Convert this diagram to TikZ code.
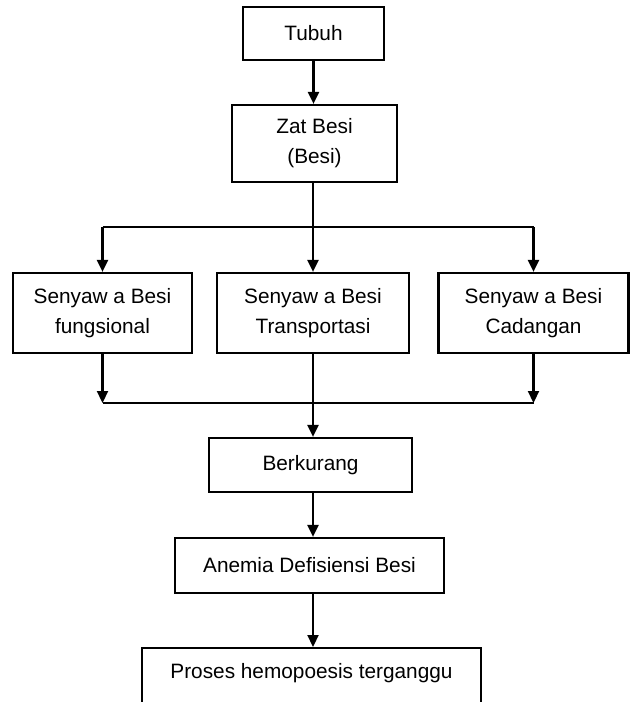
\documentclass[tikz,border=0pt]{standalone}
\usepackage{fontspec}
\setmainfont{Liberation Sans}
\usetikzlibrary{arrows.meta}

\begin{document}
\begin{tikzpicture}[x=0.5pt,y=-0.5pt,
  box/.style={draw,line width=1.1pt,align=center,inner sep=0pt,font=\fontsize{10.4}{15}\selectfont},
  link/.style={line width=1.1pt},
  arr/.style={line width=1.1pt,-{Triangle[width=5.5pt,length=6pt]}}]
\useasboundingbox (0,0) rectangle (629,702);
\node (tubuh) [box,minimum width=70.5pt,minimum height=26.5pt] at (313.5,33.5) {Tubuh};
\node (zat) [box,minimum width=82.5pt,minimum height=38.5pt] at (314.5,143.5) {Zat Besi\\(Besi)};
\node (fungsi) [box,minimum width=89.5pt,minimum height=40pt] at (102.5,313) {Senyaw a Besi\\fungsional};
\node (trans) [box,minimum width=96pt,minimum height=40pt] at (313,313) {Senyaw a Besi\\Transportasi};
\node (cadang) [box,minimum width=95pt,minimum height=40pt] at (533.5,313) {Senyaw a Besi\\Cadangan};
\node (kurang) [box,minimum width=101.5pt,minimum height=27pt] at (310.5,465) {Berkurang};
\node (anemia) [box,minimum width=134.5pt,minimum height=27.5pt] at (309.5,565.5) {Anemia Defisiensi Besi};
\node (proses) [box,anchor=north,minimum width=169.5pt,text height=15pt,text depth=40pt] at (311.5,647) {Proses hemopoesis terganggu};
\coordinate (split) at (313,227);
\coordinate (join) at (313,403);
\draw [arr] (tubuh.south) -- (tubuh.south |- zat.north);
\draw [arr] (zat.south -| split) -- (split |- trans.north);
\draw [link] (fungsi.north |- split) -- (cadang.north |- split);
\draw [arr] (fungsi.north |- split) -- (fungsi.north);
\draw [arr] (cadang.north |- split) -- (cadang.north);
\draw [arr] (fungsi.south) -- (fungsi.south |- join);
\draw [arr] (cadang.south) -- (cadang.south |- join);
\draw [link] (fungsi.south |- join) -- (cadang.south |- join);
\draw [arr] (trans.south) -- (trans.south |- kurang.north);
\draw [arr] (kurang.south -| join) -- (join |- anemia.north);
\draw [arr] (anemia.south -| join) -- (join |- proses.north);
\end{tikzpicture}
\end{document}
